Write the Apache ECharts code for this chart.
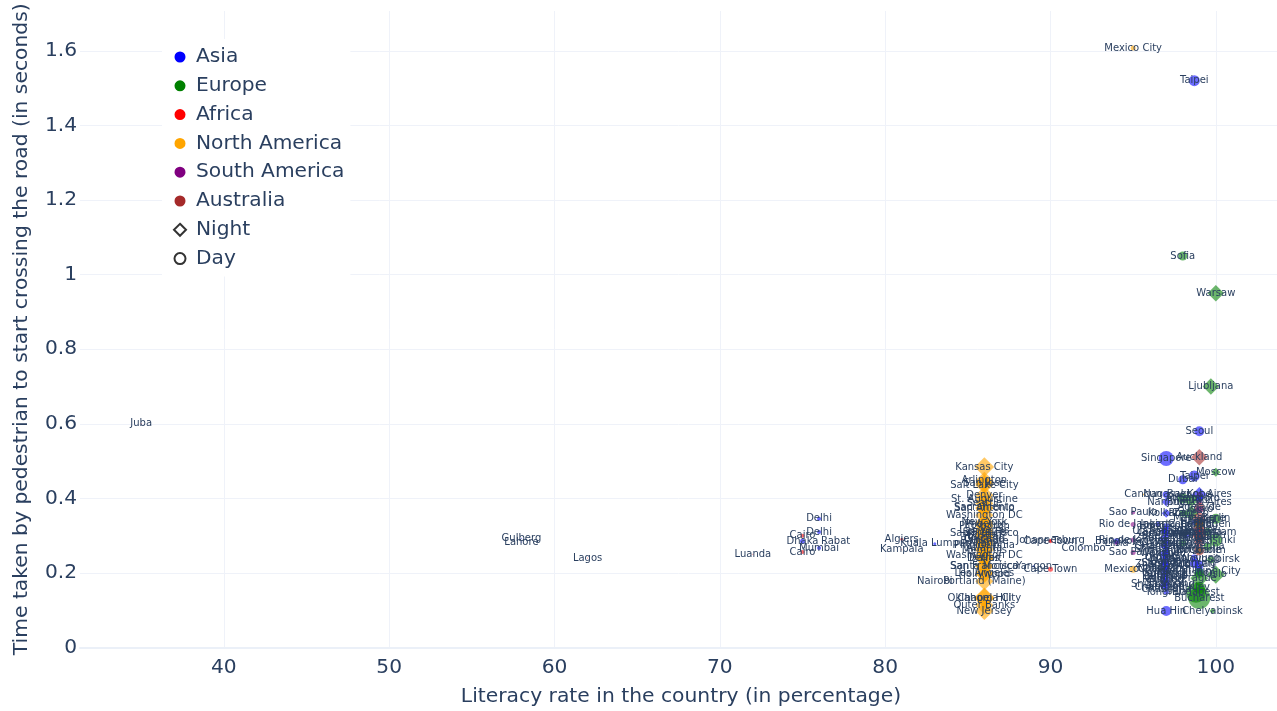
<!DOCTYPE html>
<html><head><meta charset="utf-8">
<style>html,body{margin:0;padding:0;background:#fff}#c{width:1277px;height:711px}</style>
<script src="https://cdn.jsdelivr.net/npm/echarts@6/dist/echarts.min.js"></script>
</head><body><div id="c"></div>
<script>
const xTicks=[40,50,60,70,80,90,100];
const yTicks=[0,0.2,0.4,0.6,0.8,1,1.2,1.4,1.6];
const continents=['Asia','Europe','Africa','North America','South America','Australia'];
const continentColors=['rgba(0,0,255,0.72)','rgba(0,128,0,0.72)','rgba(255,0,0,0.72)','rgba(255,165,0,0.75)','rgba(128,0,128,0.72)','rgba(165,42,42,0.72)'];
const legendColors=['#0000ff','#008000','#ff0000','#ffa500','#800080','#a52a2a'];
// [literacy, seconds, marker size, city]
const asiaDay=[[98.7,1.52,11,'Taipei'],[99,0.58,10,'Seoul'],[97,0.507,15,'Singapore'],[98.7,0.46,11,'Taipei'],[98,0.45,9,'Dubai'],
[76,0.345,4,'Delhi'],[76,0.31,4,'Delhi'],[76,0.267,4,'Mumbai'],[75,0.285,5,'Dhaka'],[58,0.293,1,'Gulberg'],[58,0.283,1,'Lahore'],[83,0.278,3,'Kuala Lumpur'],[89,0.218,2,'Yangon'],[92,0.267,1,'Colombo'],[94,0.285,6,'Bangkok'],
[97,0.41,7,'Nagasaki'],[96.5,0.33,5,'Jakarta'],[97,0.325,6,'Hong Kong'],[97,0.318,5,'Beijing'],[97,0.31,6,'Shanghai'],[97,0.305,5,'Guangzhou'],[97,0.298,5,'Shenzhen'],[96.8,0.292,6,'Zhengzhou'],[97,0.285,5,'Chengdu'],[97,0.278,5,'Chongqing'],[97,0.27,5,'Hangzhou'],[97,0.262,6,'Shijiazhuang'],[97,0.255,6,'Tianjin'],[97,0.248,5,'Xian'],[97,0.24,5,'Qingdao'],[97,0.232,6,'Dalian'],[97,0.225,5,'Shenyang'],[97,0.218,6,'Harbin'],[97,0.21,6,'Changchun'],[97,0.203,6,'Jinan'],[97,0.195,5,'Kunming'],[97,0.188,5,'Xiamen'],[97,0.18,6,'Fuzhou'],[97,0.172,6,'Shantou'],[97,0.165,5,'Suzhou'],[97,0.157,4,'Changsha'],[97,0.148,5,'Tonghua'],[97,0.098,10,'Hua Hin'],
[96.8,0.312,5,'Ulaanbaatar'],[96.8,0.272,5,'Guangzhou'],[96.8,0.252,5,'Wenzhou'],[96.8,0.242,5,'Urumqi'],[96.8,0.228,5,'Hefei'],[96.8,0.222,5,'Zhengzhou'],[96.8,0.212,5,'Nanchang'],[96.8,0.2,5,'Guiyang'],[96.8,0.192,5,'Lanzhou'],[96.8,0.182,5,'Nanning'],[96.8,0.168,5,'Shijiazhuang'],[96.8,0.162,5,'Changzhou'],
[98.7,0.24,7,'Kaohsiung'],[98.7,0.225,9,'Taichung'],[99,0.37,7,'Tokyo'],[99,0.34,7,'Osaka'],[99,0.315,6,'Kyoto'],[99,0.3,6,'Nagoya'],[99,0.222,9,'Busan'],[99,0.205,8,'Ho Chi Minh City'],[99,0.4,7,'Sapporo'],[98.7,0.335,5,'Hanoi'],[98.2,0.3,6,'Manila']];
const asiaNight=[[99,0.41,10,'Kobe'],[97,0.39,6,'Nanjing'],[97,0.36,6,'Kolkata']];
const europeDay=[[98,1.05,9,'Sofia'],[99,0.133,22,'Bucharest'],[98.8,0.147,20,'Budapest'],[98.5,0.395,11,'Madrid'],[98,0.4,10,'Athens'],[98,0.36,7,'Rome'],[99,0.34,7,'Paris'],[100,0.345,10,'Berlin'],[99,0.33,9,'London'],[99,0.295,9,'Dublin'],[100,0.288,13,'Helsinki'],[99,0.33,8,'Copenhagen'],[99.5,0.31,8,'Amsterdam'],[99.5,0.27,8,'Vienna'],[99,0.26,7,'Stockholm'],[99,0.2,10,'Lisbon'],[98,0.28,7,'Belgrade'],[99,0.16,12,'Kiev'],[99.7,0.235,7,'Novosibirsk']];
const europeNight=[[100,0.95,11,'Warsaw'],[99.7,0.7,11,'Ljubljana'],[100,0.47,6,'Moscow'],[99.8,0.098,4,'Chelyabinsk'],[98.5,0.36,10,'Zagreb'],[100,0.195,12,'Oslo'],[99,0.186,12,'Prague']];
const africaDay=[[75,0.3,4,'Cairo'],[75,0.256,4,'Cairo'],[81,0.29,3,'Algiers'],[81,0.262,1,'Kampala'],[83,0.178,1,'Nairobi'],[90,0.285,4,'Cape Town'],[90,0.287,3,'Johannesburg'],[90,0.21,5,'Cape Town'],[77,0.285,1,'Rabat'],[72,0.25,1,'Luanda'],[62,0.24,1,'Lagos'],[35,0.6,1,'Juba']];
const northAmericaDay=[[95,1.608,5,'Mexico City'],[95,0.21,7,'Mexico City'],[95.6,0.41,2,'Cancun']];
const northAmericaNight=[[86,0.484,13,'Kansas City'],[86,0.447,12,'Arlington'],[86,0.44,12,'San Jose'],[86,0.436,12,'Salt Lake City'],[86,0.408,12,'Denver'],[86,0.397,12,'St. Augustine'],[86,0.386,12,'Seattle'],[86,0.375,12,'Sacramento'],[86,0.373,12,'San Antonio'],[86,0.355,12,'Washington DC'],[86,0.335,12,'New York'],[86,0.33,12,'Phoenix'],[86,0.325,12,'Pittsburgh'],[86,0.315,12,'Las Vegas'],[86,0.31,12,'Santa Fe'],[86,0.305,12,'San Francisco'],[86,0.3,12,'Boston'],[86,0.295,12,'Houston'],[86,0.29,12,'Chicago'],[86,0.285,12,'Baltimore'],[86,0.28,12,'Miami'],[86,0.275,12,'Philadelphia'],[86,0.265,12,'Atlanta'],[86,0.26,12,'Memphis'],[86,0.248,12,'Washington DC'],[86,0.24,12,'Detroit'],[86,0.238,12,'Dallas'],[86,0.218,12,'Santa Monica'],[86,0.218,12,'San Francisco'],[86,0.197,12,'Hollywood'],[86,0.2,12,'Los Angeles'],[86,0.178,12,'Portland (Maine)'],[86,0.133,14,'Oklahoma City'],[86,0.133,13,'Chapel Hill'],[86,0.113,12,'Outer Banks'],[86,0.098,12,'New Jersey']];
const southAmericaDay=[[95,0.362,4,'Sao Paulo'],[95,0.255,5,'Sao Paulo'],[95,0.33,5,'Rio de Janeiro'],[95,0.288,5,'Rio de Janeiro'],[94,0.28,4,'Lima'],[99,0.41,5,'Buenos Aires'],[99,0.39,5,'Buenos Aires']];
const australiaDay=[[99,0.345,12,'Melbourne'],[99,0.32,12,'Sydney'],[99,0.285,10,'Perth'],[99,0.26,10,'Brisbane'],[99,0.375,10,'Adelaide'],[99,0.31,10,'Canberra']];
const australiaNight=[[99,0.51,11,'Auckland'],[99,0.3,10,'Wellington']];
const groups=[[asiaDay,asiaNight],[europeDay,europeNight],[africaDay,[]],[northAmericaDay,northAmericaNight],[southAmericaDay,[]],[australiaDay,australiaNight]];
const textColor='#2a3f5f',gridColor='#EFF2F9',fam='"DejaVu Sans",Verdana,sans-serif';
const series=[];
groups.forEach((g,i)=>{
  const mk=(rows,sym)=>rows.map(r=>({value:[r[0],r[1]],name:r[3],symbol:sym,symbolSize:sym==='diamond'?r[2]*1.5:r[2]}));
  series.push({type:'scatter',name:continents[i],data:mk(g[0],'circle').concat(mk(g[1],'diamond')),
    itemStyle:{color:continentColors[i],borderWidth:0},
    label:{show:true,position:'inside',formatter:p=>p.name,fontFamily:fam,fontSize:10,color:textColor,opacity:1},
    labelLayout:{hideOverlap:false},emphasis:{disabled:true},clip:true});
});
series.push({type:'scatter',name:'Night',data:[]},{type:'scatter',name:'Day',data:[]});
const pad='M-7,-7L-7,-7ZM7,7L7,7Z';
const circleIcon='path://'+pad+'M-5.5,0A5.5,5.5,0,1,1,5.5,0A5.5,5.5,0,1,1,-5.5,0Z';
const diamondIcon='path://'+pad+'M0,-6L6,0L0,6L-6,0Z';
const legendData=continents.map((n,i)=>({name:n,icon:circleIcon,itemStyle:{color:legendColors[i],opacity:1,borderWidth:0}}))
 .concat([{name:'Night',icon:diamondIcon,itemStyle:{color:'#fff',borderColor:'#000',borderWidth:2}},{name:'Day',icon:circleIcon,itemStyle:{color:'#fff',borderColor:'#000',borderWidth:2}}]);
const axisBase={axisTick:{show:false},splitLine:{show:true,lineStyle:{color:gridColor,width:1}},nameLocation:'middle',nameTextStyle:{color:textColor,fontFamily:fam,fontSize:20.3},axisLabel:{color:textColor,fontFamily:fam,fontSize:20.2}};
const chart=echarts.init(document.getElementById('c'),null,{renderer:'canvas'});
chart.setOption({animation:false,backgroundColor:'#fff',
 grid:{left:80,right:0,top:11,bottom:63.5,outerBoundsMode:'none',containLabel:false},
 legend:{left:162,top:39,orient:'vertical',padding:[8,6,8,10],itemWidth:14,itemHeight:14,itemGap:8.8,backgroundColor:'#fff',data:legendData,textStyle:{color:textColor,fontFamily:fam,fontSize:20.2,padding:[1,0,0,4]},selectedMode:false},
 xAxis:Object.assign({},axisBase,{type:'value',min:31.3,max:103.7,name:'Literacy rate in the country (in percentage)',nameGap:39,
   nameTextStyle:Object.assign({},axisBase.nameTextStyle,{padding:[0,0,0,5]}),
   axisLine:{show:true,lineStyle:{color:'#EBF0F8',width:2}},
   axisLabel:Object.assign({},axisBase.axisLabel,{customValues:xTicks,margin:10}),axisTick:{show:false,customValues:xTicks}}),
 yAxis:Object.assign({},axisBase,{type:'value',min:0,max:1.707,name:'Time taken by pedestrian to start crossing the road (in seconds)',nameGap:48,
   axisLine:{show:false},
   axisLabel:Object.assign({},axisBase.axisLabel,{customValues:yTicks,margin:3,padding:[4,0,0,0]}),axisTick:{show:false,customValues:yTicks}}),
 series});
</script></body></html>
